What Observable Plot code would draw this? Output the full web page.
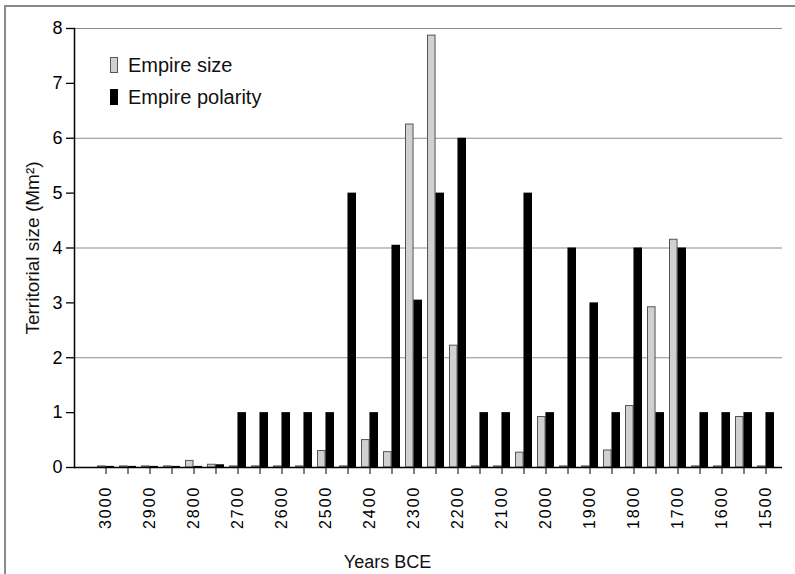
<!DOCTYPE html>
<html>
<head>
<meta charset="utf-8">
<script src="https://cdn.jsdelivr.net/npm/d3@7"></script>
<script src="https://cdn.jsdelivr.net/npm/@observablehq/plot@0.6"></script>
<style>
html, body { margin: 0; padding: 0; background: #fff; }
#wrap { position: relative; width: 795px; height: 574px; overflow: hidden; font-family: "Liberation Sans", Arial, sans-serif; }
#border { position: absolute; left: 4px; top: 5px; right: 0; bottom: 0; border-top: 2px solid #8a8a8a; border-left: 2px solid #8a8a8a; }
#chart { position: absolute; left: 0; top: 0; }
#legend { position: absolute; left: 110px; top: 49px; font-size: 20px; color: #111; }
.item { display: flex; align-items: center; height: 32px; }
.sw { width: 8px; height: 16px; margin-right: 10px; box-sizing: border-box; }
g[aria-label="x-axis tick label"] { letter-spacing: 2px; }
g[aria-label="y-title"] { letter-spacing: 1.4px; }
</style>
</head>
<body>
<div id="wrap"><div id="border"></div><div id="chart"></div><div id="legend"></div></div>
<script>
// Categories (years BCE, 50-year steps)
const years = [3000, 2950, 2900, 2850, 2800, 2750, 2700, 2650, 2600, 2550,
               2500, 2450, 2400, 2350, 2300, 2250, 2200, 2150, 2100, 2050,
               2000, 1950, 1900, 1850, 1800, 1750, 1700, 1650, 1600, 1550, 1500];
// Empire size (Mm^2)
const empireSize = [0.02, 0.02, 0.02, 0.02, 0.12, 0.05, 0.02, 0.02, 0.02, 0.02,
                    0.30, 0.02, 0.50, 0.28, 6.25, 7.87, 2.22, 0.02, 0.02, 0.27,
                    0.92, 0.02, 0.02, 0.31, 1.12, 2.92, 4.15, 0.02, 0.02, 0.92, 0.02];
// Empire polarity
const empirePolarity = [0.02, 0.02, 0.02, 0.02, 0.02, 0.05, 1, 1, 1, 1,
                        1, 5, 1, 4.05, 3.05, 5, 6, 1, 1, 5,
                        1, 4, 3, 1, 4, 1, 4, 1, 1, 1, 1];
const seriesNames = ["Empire size", "Empire polarity"];
const yTicks = [0, 1, 2, 3, 4, 5, 6, 7, 8];
const gridValues = [2, 4, 6, 8];
const xLabelYears = [3000, 2900, 2800, 2700, 2600, 2500, 2400, 2300, 2200, 2100, 2000, 1900, 1800, 1700, 1600, 1500];
const yTitle = "Territorial size (Mm\u00B2)";
const xTitle = "Years BCE";

const rows = years.map((year, i) => ({year, size: empireSize[i], polarity: empirePolarity[i]}));

const xRange = [77, 793];
const padInner = 0.25, padOuter = 0.5;
const bw = d3.scaleBand().domain(years).range(xRange).paddingInner(padInner).paddingOuter(padOuter).bandwidth();

const chart = Plot.plot({
  width: 795,
  height: 574,
  marginLeft: 74,
  marginRight: 13,
  marginTop: 28,
  marginBottom: 107,
  style: {fontFamily: "'Liberation Sans', Arial, sans-serif", color: "#000", background: "transparent"},
  x: {type: "band", domain: years, range: xRange, paddingInner: padInner, paddingOuter: padOuter},
  y: {domain: [0, 8]},
  marks: [
    Plot.gridY(gridValues, {stroke: "#8c8c8c", strokeOpacity: 1}),
    Plot.barY(rows, {x: "year", y: "size", fill: "#d0d0d0", stroke: "#555", strokeWidth: 1, insetLeft: 0.5, insetRight: bw / 2 + 0.5}),
    Plot.barY(rows, {x: "year", y: "polarity", fill: "#000", insetLeft: bw / 2}),
    Plot.ruleY([0], {stroke: "#000", strokeWidth: 1.5}),
    Plot.frame({anchor: "left", stroke: "#000", strokeWidth: 1.5}),
    Plot.axisY(yTicks, {tickSize: 8, tickPadding: 4, fontSize: 18, label: null, strokeWidth: 1.3,
      tickFormat: d => String(d)}),
    Plot.axisX(years, {tickSize: 7, tickPadding: 11, tickRotate: -90, fontSize: 16, label: null,
      tickFormat: d => xLabelYears.includes(d) ? String(d) : ""}),
    Plot.text([yTitle], {text: d => d, frameAnchor: "left", textAnchor: "middle", rotate: -90, dx: -42, fontSize: 19, fill: "#111", ariaLabel: "y-title"}),
    Plot.text([xTitle], {text: d => d, frameAnchor: "bottom", textAnchor: "middle", dx: -41, dy: 100, fontSize: 18, fill: "#111"})
  ]
});
document.getElementById("chart").appendChild(chart);

// Legend
const legendColors = [{fill: "#d0d0d0", stroke: "#555"}, {fill: "#000", stroke: "#000"}];
const legend = document.getElementById("legend");
seriesNames.forEach((name, i) => {
  const item = document.createElement("div");
  item.className = "item";
  const sw = document.createElement("span");
  sw.className = "sw";
  sw.style.background = legendColors[i].fill;
  sw.style.border = "1px solid " + legendColors[i].stroke;
  const label = document.createElement("span");
  label.textContent = name;
  item.appendChild(sw);
  item.appendChild(label);
  legend.appendChild(item);
});
</script>
</body>
</html>
